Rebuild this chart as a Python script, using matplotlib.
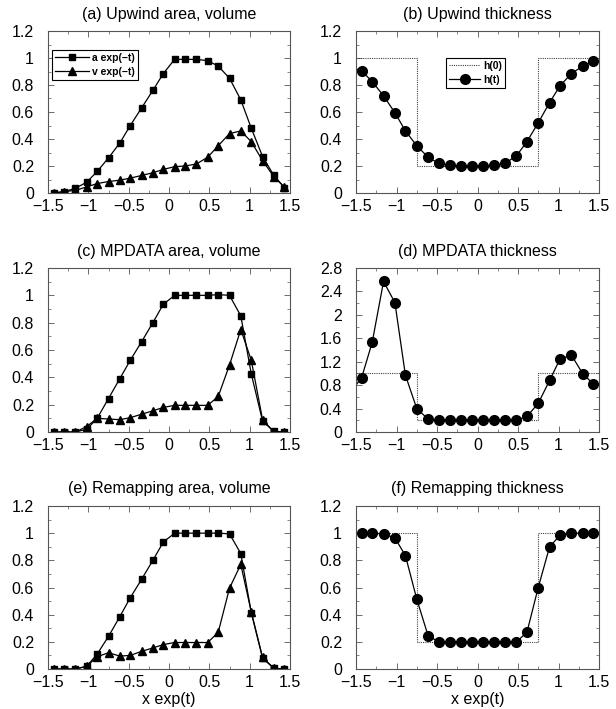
import matplotlib
matplotlib.use("Agg")
import matplotlib.pyplot as plt
from matplotlib.ticker import AutoMinorLocator, FixedLocator, FuncFormatter

plt.rcParams["font.family"] = ["Liberation Sans", "DejaVu Sans"]

# cell centres
X = [-1.43, -1.30, -1.16, -1.02, -0.89, -0.75, -0.61, -0.48, -0.34, -0.20, -0.07,
     0.07, 0.20, 0.34, 0.48, 0.61, 0.75, 0.89, 1.02, 1.16, 1.30, 1.43]
# same, with the ghost cells just outside the domain
X_GHOST = [-1.57] + X + [1.57]

# initial thickness h(0)
H0_X = [-1.5, -0.75, -0.75, 0.75, 0.75, 1.5]
H0_Y = [1.0, 1.0, 0.2, 0.2, 1.0, 1.0]

# (a) upwind
up_a = [0.0, 0.01, 0.035, 0.08, 0.16, 0.26, 0.37, 0.50, 0.63, 0.76, 0.885,
        0.99, 0.99, 0.99, 0.98, 0.94, 0.85, 0.69, 0.48, 0.27, 0.13, 0.04]
up_v = [0.0, 0.01, 0.02, 0.045, 0.07, 0.085, 0.095, 0.11, 0.13, 0.15, 0.175,
        0.195, 0.2, 0.215, 0.265, 0.35, 0.44, 0.46, 0.38, 0.24, 0.12, 0.045]
# (b) upwind thickness
up_h = [0.935, 0.905, 0.825, 0.72, 0.595, 0.46, 0.35, 0.265, 0.22, 0.205, 0.2, 0.2,
        0.2, 0.205, 0.22, 0.275, 0.38, 0.52, 0.67, 0.795, 0.885, 0.94, 0.975, 0.985]
# (c) MPDATA
mp_a = [0.0, 0.0, 0.0, 0.02, 0.10, 0.245, 0.39, 0.525, 0.66, 0.80, 0.935,
        1.0, 1.0, 1.0, 1.0, 1.005, 1.0, 0.85, 0.425, 0.08, 0.005, 0.0]
mp_v = [0.0, 0.0, 0.0, 0.04, 0.10, 0.095, 0.09, 0.105, 0.13, 0.155, 0.18,
        0.195, 0.195, 0.195, 0.195, 0.26, 0.49, 0.75, 0.525, 0.09, 0.0, 0.0]
# (d) MPDATA thickness
mp_h = [0.67, 0.93, 1.53, 2.57, 2.21, 0.97, 0.40, 0.22, 0.20, 0.20, 0.20, 0.20,
        0.20, 0.20, 0.20, 0.20, 0.265, 0.49, 0.88, 1.25, 1.31, 0.995, 0.82, 0.78]
# (e) remapping
rm_a = [0.0, 0.0, 0.0, 0.02, 0.11, 0.24, 0.385, 0.525, 0.66, 0.80, 0.935,
        1.0, 1.0, 1.0, 1.0, 1.0, 0.995, 0.85, 0.415, 0.08, 0.005, 0.0]
rm_v = [0.0, 0.0, 0.0, 0.02, 0.09, 0.12, 0.095, 0.10, 0.13, 0.155, 0.18,
        0.195, 0.195, 0.195, 0.195, 0.27, 0.595, 0.77, 0.42, 0.085, 0.005, 0.0]
# (f) remapping thickness
rm_h = [1.0, 1.0, 0.995, 0.965, 0.835, 0.515, 0.245, 0.20, 0.2, 0.2, 0.2,
        0.2, 0.2, 0.2, 0.2, 0.27, 0.60, 0.90, 0.985, 1.0, 1.0, 1.0]

XTICKS = [-1.5, -1, -0.5, 0, 0.5, 1, 1.5]

W, H = 616, 709
fig = plt.figure(figsize=(W / 100, H / 100), dpi=100)


def make_ax(left, top, right, bottom):
    return fig.add_axes([left / W, 1 - bottom / H, (right - left) / W, (bottom - top) / H])


def fmt(v, pos):
    s = f"{v:g}"
    return s.replace("-", "\u2212")


def style(ax, title, ymax, ystep, xlabel=False):
    ax.set_xlim(-1.5, 1.5)
    ax.set_ylim(0, ymax)
    ax.xaxis.set_major_locator(FixedLocator(XTICKS))
    n = int(round(ymax / ystep))
    ax.yaxis.set_major_locator(FixedLocator([i * ystep for i in range(n + 1)]))
    ax.xaxis.set_minor_locator(AutoMinorLocator(2))
    ax.yaxis.set_minor_locator(AutoMinorLocator(2))
    ax.xaxis.set_major_formatter(FuncFormatter(fmt))
    ax.yaxis.set_major_formatter(FuncFormatter(fmt))
    ax.tick_params(which="both", direction="in", top=True, right=True,
                   color="#555", labelsize=11.5)
    ax.tick_params(axis="x", which="major", pad=4.5)
    ax.tick_params(axis="y", which="major", pad=10)
    ax.tick_params(which="major", length=4, width=0.6)
    ax.tick_params(which="minor", length=2, width=0.5)
    for sp in ax.spines.values():
        sp.set_color("#555")
        sp.set_linewidth(0.8)
    ax.set_title(title, fontsize=11.5, pad=9)
    if xlabel:
        ax.set_xlabel("x exp(t)", fontsize=11.5, labelpad=1.5)


def area_panel(ax, a, v, title, legend=False, xlabel=False):
    ax.plot(X, a, "-", color="black", lw=0.9, marker="s", ms=4.5, label="a exp(\u2212t)")
    ax.plot(X, v, "-", color="black", lw=0.9, marker="^", ms=6, label="v exp(\u2212t)")
    style(ax, title, 1.2, 0.2, xlabel)
    if legend:
        leg = ax.legend(loc="upper left", bbox_to_anchor=(0.017, 0.885),
                        prop={"size": 7.5, "weight": "bold"}, fancybox=False,
                        framealpha=1, edgecolor="black", handlelength=3.2,
                        borderpad=0.3, labelspacing=0.4, handletextpad=0.3,
                        borderaxespad=0)
        leg.get_frame().set_linewidth(0.8)


def thick_panel(ax, xs, h, title, ymax, ystep, legend=False, xlabel=False):
    ax.plot(H0_X, H0_Y, linestyle=(0, (1, 1)), color="#444", lw=0.8, label="h(0)")
    ax.plot(xs, h, "-", color="black", lw=0.9, marker="o", ms=7, label="h(t)")
    style(ax, title, ymax, ystep, xlabel)
    if legend:
        leg = ax.legend(loc="upper left", bbox_to_anchor=(0.37, 0.835),
                        prop={"size": 7.5, "weight": "bold"}, fancybox=False,
                        framealpha=1, edgecolor="black", handlelength=3.0,
                        borderpad=0.3, labelspacing=0.4, handletextpad=0.3,
                        borderaxespad=0)
        leg.get_frame().set_linewidth(0.8)


ax_a = make_ax(48, 31, 290, 193)
ax_b = make_ax(356, 31, 599, 193)
ax_c = make_ax(48, 268, 290, 432)
ax_d = make_ax(356, 268, 599, 432)
ax_e = make_ax(48, 506, 290, 669)
ax_f = make_ax(356, 506, 599, 669)

area_panel(ax_a, up_a, up_v, "(a) Upwind area, volume", legend=True)
thick_panel(ax_b, X_GHOST, up_h, "(b) Upwind thickness", 1.2, 0.2, legend=True)
area_panel(ax_c, mp_a, mp_v, "(c) MPDATA area, volume")
thick_panel(ax_d, X_GHOST, mp_h, "(d) MPDATA thickness", 2.8, 0.4)
area_panel(ax_e, rm_a, rm_v, "(e) Remapping area, volume", xlabel=True)
thick_panel(ax_f, X, rm_h, "(f) Remapping thickness", 1.2, 0.2, xlabel=True)

fig.savefig("out.png", dpi=100, facecolor="white")
